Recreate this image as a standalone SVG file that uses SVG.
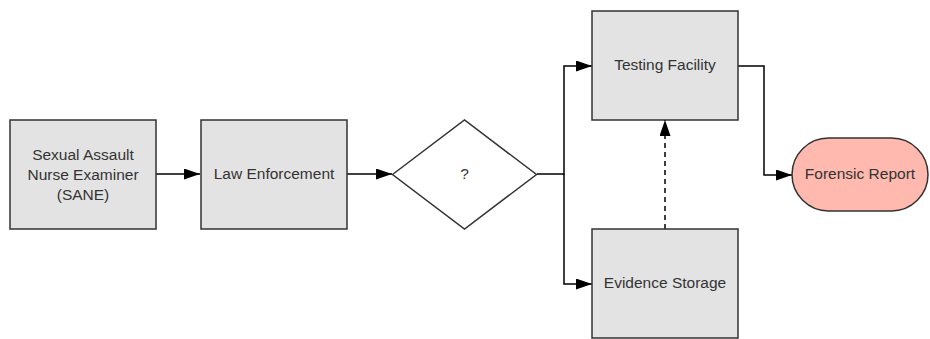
<svg xmlns="http://www.w3.org/2000/svg" width="930" height="339" viewBox="0 0 930 339">
<style>
.box{fill:#e3e3e3;stroke:#333;stroke-width:1.5}
.dec{fill:#fff;stroke:#333;stroke-width:1.5}
.term{fill:#ffb9ae;stroke:#333;stroke-width:1.5}
.t{font-family:"Liberation Sans",Arial,sans-serif;font-size:15.5px;fill:#333;text-anchor:middle}
.c{fill:none;stroke:#000;stroke-width:1.5}
</style>
<defs>
<marker id="ah" viewBox="0 0 16 11" refX="16" refY="5.5" markerWidth="16" markerHeight="11" markerUnits="userSpaceOnUse" orient="auto">
<path d="M0,0 L16,5.5 L0,11 z" fill="#000"/>
</marker>
</defs>
<g id="connectors">
<path class="c" d="M156,174 H200" marker-end="url(#ah)"/>
<path class="c" d="M347,174 H392" marker-end="url(#ah)"/>
<path class="c" d="M537,174 H564 V66 H592" marker-end="url(#ah)"/>
<path class="c" d="M564,174 V284 H592" marker-end="url(#ah)"/>
<path class="c" d="M665,229 V120" stroke-dasharray="5,4" marker-end="url(#ah)"/>
<path class="c" d="M738,66 H764 V175 H792" marker-end="url(#ah)"/>
</g>
<g id="sane">
<rect class="box" x="10" y="120" width="146" height="109"/>
<text class="t" x="83" y="160">Sexual Assault</text>
<text class="t" x="83" y="180">Nurse Examiner</text>
<text class="t" x="83" y="200">(SANE)</text>
</g>
<g id="law">
<rect class="box" x="201" y="120" width="146" height="109"/>
<text class="t" x="274" y="179">Law Enforcement</text>
</g>
<g id="decision">
<polygon class="dec" points="392.5,174.5 464.5,120 536.5,174.5 464.5,229"/>
<text class="t" x="464.5" y="179">?</text>
</g>
<g id="testing">
<rect class="box" x="592" y="11" width="146" height="109"/>
<text class="t" x="665" y="70">Testing Facility</text>
</g>
<g id="storage">
<rect class="box" x="592" y="229" width="146" height="109"/>
<text class="t" x="665" y="288">Evidence Storage</text>
</g>
<g id="report">
<rect class="term" x="792" y="138" width="136" height="73" rx="36.5" ry="36.5"/>
<text class="t" x="860" y="179">Forensic Report</text>
</g>
</svg>
